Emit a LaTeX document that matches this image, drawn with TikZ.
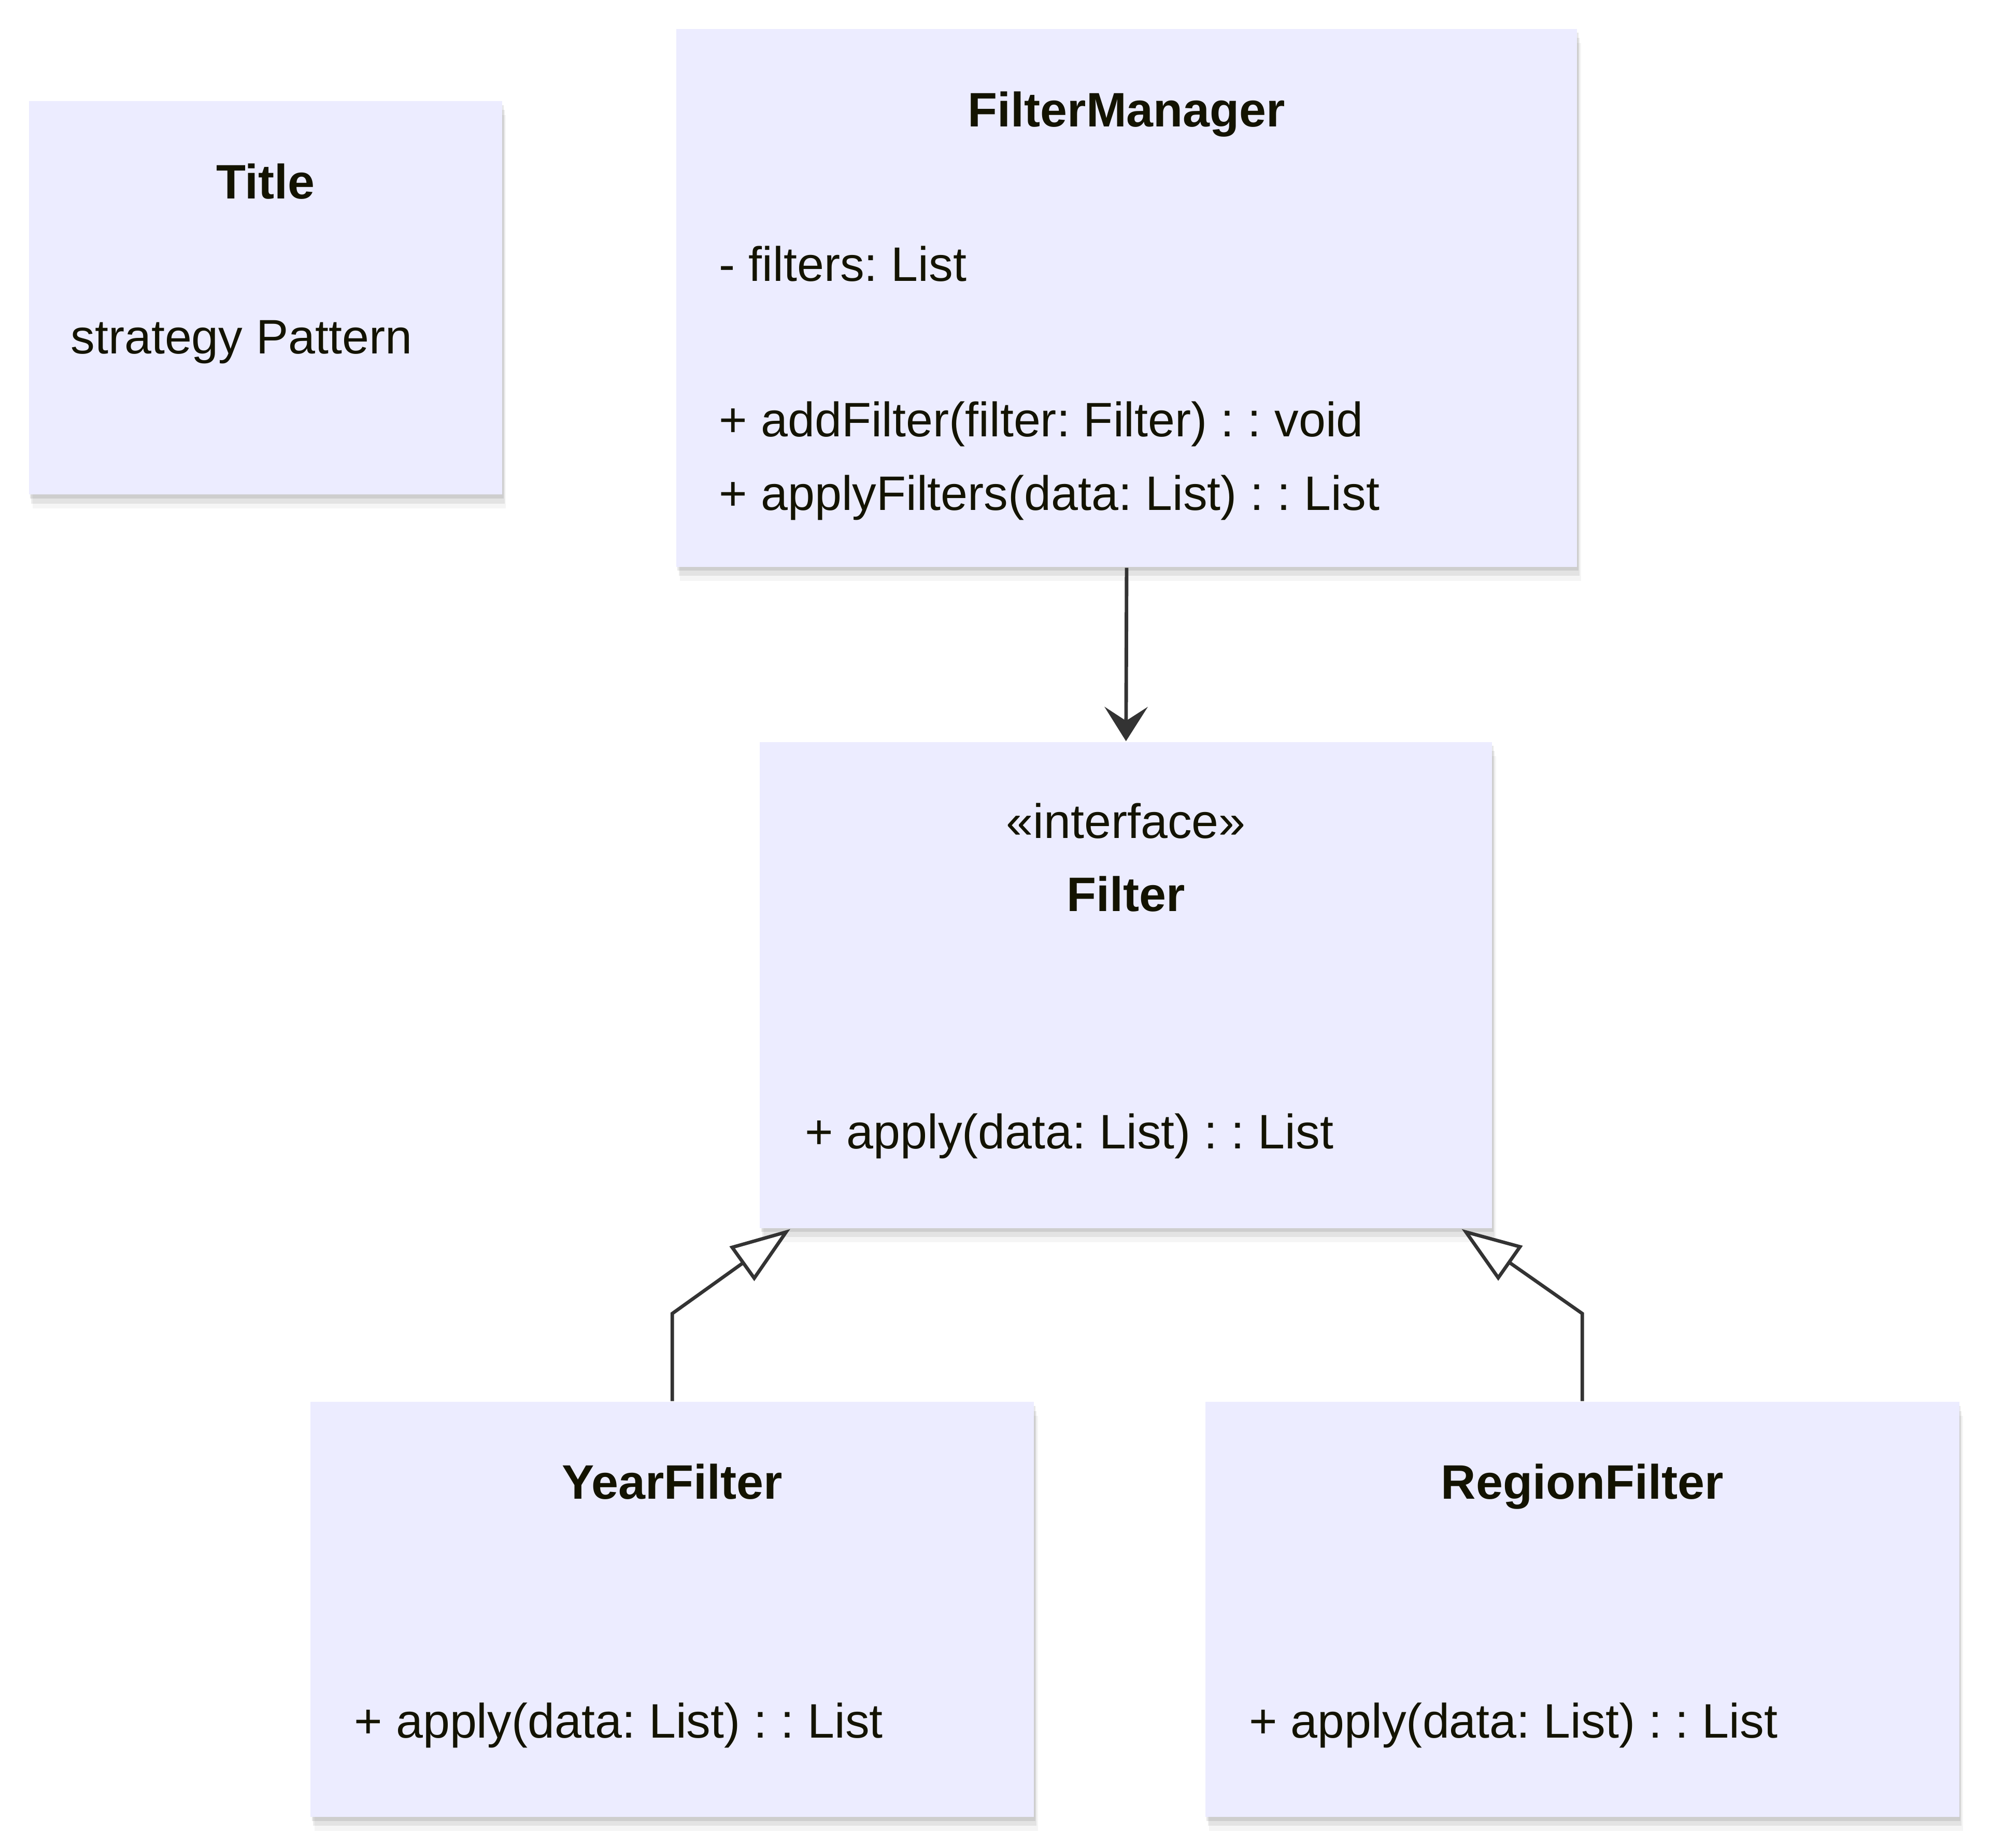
\documentclass[tikz,border=0pt]{standalone}
\usepackage{fontspec}
\setmainfont{Liberation Sans}
\usepackage{xcolor}
\usepackage{tikz}
\usetikzlibrary{calc,arrows.meta,shadows}
\frenchspacing
\definecolor{bg}{HTML}{FFFFFF}
\definecolor{boxbg}{HTML}{ECECFF}
\definecolor{text}{HTML}{131300}
\definecolor{edge}{HTML}{333333}
\tikzset{
  softshadow/.style={
    drop shadow={shadow xshift=0.01cm, shadow yshift=-0.03cm, opacity=0.09, fill=black},
    drop shadow={shadow xshift=0.02cm, shadow yshift=-0.07cm, opacity=0.07, fill=black},
    drop shadow={shadow xshift=0.03cm, shadow yshift=-0.11cm, opacity=0.04, fill=black}},
  cls/.style={fill=boxbg, draw=none, inner sep=0pt, anchor=north west, softshadow},
  cname/.style={text=text, font=\fontsize{10.85}{13}\selectfont\bfseries, inner sep=0pt, anchor=base},
  stereo/.style={text=text, font=\fontsize{10.85}{13}\selectfont, inner sep=0pt, anchor=base},
  member/.style={text=text, font=\fontsize{10.85}{13}\selectfont, inner sep=0pt, anchor=base west},
  assoc/.style={draw=edge, line width=0.8pt, -{Stealth[length=0.27cm, width=0.34cm, inset=0.11cm]}},
  inherit/.style={draw=edge, line width=0.77pt, line join=miter, -{Triangle[open, fill=white, length=0.47cm, width=0.33cm]}},
}

\begin{document}
\begin{tikzpicture}
  \fill[bg] (0,0) rectangle (15.68,-14.56);
  \useasboundingbox (0,0) rectangle (15.68,-14.56);

  % class boxes
  \node[cls, minimum width=3.73cm, minimum height=3.10cm] (title) at (0.22,-0.79) {};
  \node[cls, minimum width=7.10cm, minimum height=4.24cm] (fm) at (5.32,-0.22) {};
  \node[cls, minimum width=5.77cm, minimum height=3.83cm] (filter) at (5.98,-5.84) {};
  \node[cls, minimum width=5.70cm, minimum height=3.27cm] (year) at (2.44,-11.04) {};
  \node[cls, minimum width=5.94cm, minimum height=3.27cm] (region) at (9.49,-11.04) {};

  % texts
  \node[cname] (titleName) at ($(title.north)+(0,-0.775)$) {Title};
  \node[member] (titleText) at ($(title.north west)+(0.33,-1.995)$) {strategy Pattern};

  \node[cname] (fmName) at ($(fm.north)+(0,-0.78)$) {FilterManager};
  \node[member] (fmAttr) at ($(fm.north west)+(0.34,-1.995)$) {- filters: List};
  \node[member] (fmAdd) at ($(fm.north west)+(0.34,-3.22)$) {+ addFilter(filter: Filter) : : void};
  \node[member] (fmApply) at ($(fm.north west)+(0.34,-3.80)$) {+ applyFilters(data: List) : : List};

  \node[stereo] (filterStereo) at ($(filter.north)+(0,-0.765)$) {«interface»};
  \node[cname] (filterName) at ($(filter.north)+(0,-1.34)$) {Filter};
  \node[member] (filterApply) at ($(filter.north west)+(0.355,-3.21)$) {+ apply(data: List) : : List};

  \node[cname] (yearName) at ($(year.north)+(0,-0.77)$) {YearFilter};
  \node[member] (yearApply) at ($(year.north west)+(0.345,-2.655)$) {+ apply(data: List) : : List};

  \node[cname] (regionName) at ($(region.north)+(0,-0.77)$) {RegionFilter};
  \node[member] (regionApply) at ($(region.north west)+(0.345,-2.655)$) {+ apply(data: List) : : List};

  % connectors
  \draw[assoc] (fm.south) -- (filter.north);
  \draw[inherit] (year.north) -- ++(0,0.69) -- ($(filter.south west)+(0.247,0)$);
  \draw[inherit] (region.north) -- ++(0,0.69) -- ($(filter.south east)+(-0.247,0)$);
\end{tikzpicture}
\end{document}
